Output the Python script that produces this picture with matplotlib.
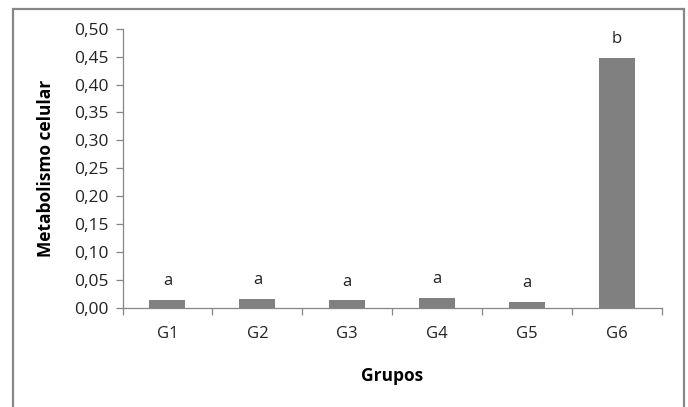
import matplotlib
matplotlib.use("Agg")
import matplotlib.pyplot as plt
from matplotlib import patches

grupos = ["G1", "G2", "G3", "G4", "G5", "G6"]
metabolismo = [0.015, 0.016, 0.014, 0.018, 0.011, 0.448]
letras = ["a", "a", "a", "a", "a", "b"]
yticks = [0.00, 0.05, 0.10, 0.15, 0.20, 0.25, 0.30, 0.35, 0.40, 0.45, 0.50]

plt.rcParams['font.family'] = ['Open Sans', 'DejaVu Sans']

W, H = 688, 407
fig = plt.figure(figsize=(W / 100, H / 100), dpi=100)
fig.patch.set_facecolor('white')

# outer chart frame (bottom edge runs off the image)
frame = patches.Rectangle((13 / W, -0.05), (684 - 13) / W, 1.05 - 8.5 / H,
                          transform=fig.transFigure, fill=False,
                          edgecolor='#878787', linewidth=1.6)
fig.add_artist(frame)

left, right, top, bottom = 122.5, 662, 28.7, 308
ax = fig.add_axes([left / W, 1 - bottom / H, (right - left) / W, (bottom - top) / H])

x = range(len(grupos))
ax.bar(x, metabolismo, width=0.4, color='#808080')
for xi, v, l in zip(x, metabolismo, letras):
    ax.text(xi, v + 0.019, l, ha='center', va='bottom', fontsize=12, color='#222222')

ax.set_xlim(-0.5, len(grupos) - 0.5)
ax.set_ylim(0, 0.5)
ax.set_yticks(yticks)
ax.set_yticklabels([f"{t:.2f}".replace('.', ',') for t in yticks], fontsize=12.5, color='#222222')
ax.set_xticks(list(x))
ax.set_xticklabels(grupos, fontsize=12, color='#222222')
ax.tick_params(axis='x', length=0, pad=13)
ax.tick_params(axis='y', length=5, width=0.9, color='#868686', pad=5)
ax.set_xticks([i - 0.5 for i in range(len(grupos) + 1)], minor=True)
ax.tick_params(axis='x', which='minor', length=5, width=0.9, color='#868686')

for s in ['top', 'right']:
    ax.spines[s].set_visible(False)
for s in ['left', 'bottom']:
    ax.spines[s].set_color('#868686')
    ax.spines[s].set_linewidth(0.9)

ax.set_xlabel("Grupos", fontsize=12.5, fontweight='bold', labelpad=18)
ax.set_ylabel("Metabolismo celular", fontsize=12.5, fontweight='bold', labelpad=14)

fig.savefig("out.png", dpi=100)
